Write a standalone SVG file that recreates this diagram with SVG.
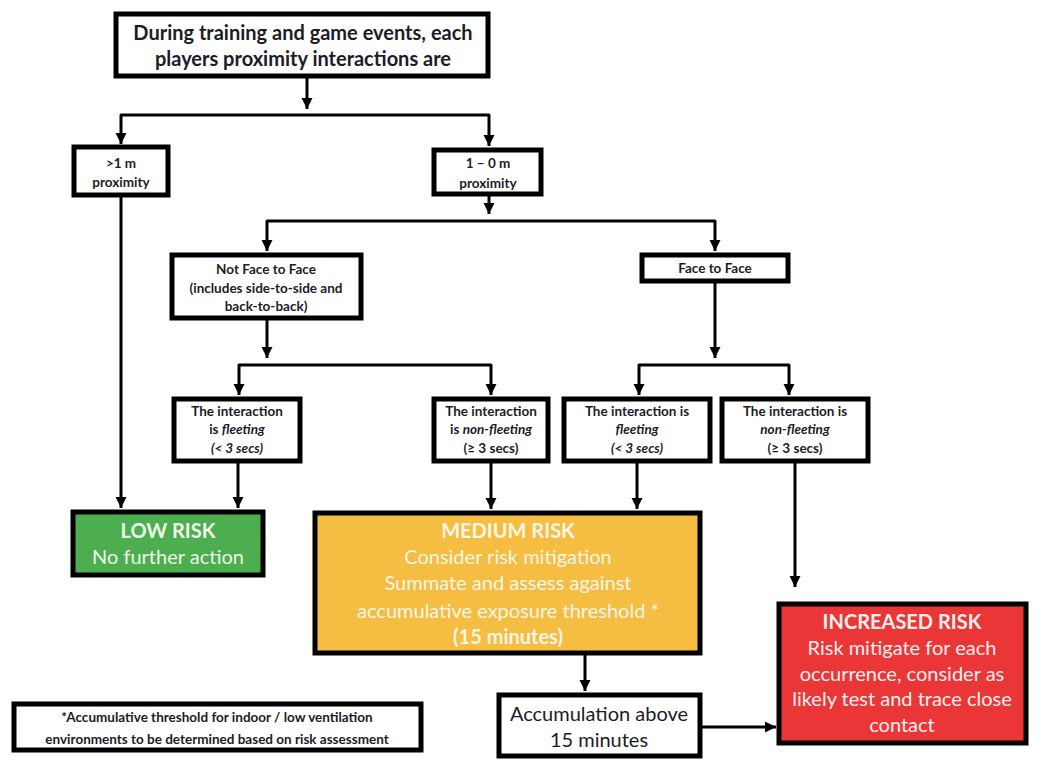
<svg xmlns="http://www.w3.org/2000/svg" width="1051" height="773" viewBox="0 0 1051 773">
<defs>
<marker id="ah" markerUnits="userSpaceOnUse" markerWidth="12" markerHeight="12" refX="11" refY="6" orient="auto">
<path d="M0,0.5 L11,6 L0,11.5 z" fill="#000"/>
</marker>
<style>
.box{fill:#fff;stroke:#000;stroke-width:5}
.t{font-family:Lato,"Open Sans","Liberation Sans",sans-serif;text-anchor:middle;fill:#1c1c28}
.big{font-size:20px}
.sm{font-size:13.5px;font-weight:bold}
.fn{font-size:13.5px;font-weight:bold}
.b{font-weight:bold}
.i{font-style:italic}
.w{fill:#fdf6e6}
.r{fill:#fff0f0}
.g{fill:#eef8ea}
.con path{fill:none;stroke:#000;stroke-width:3;stroke-linejoin:round}
</style>
</defs>
<rect width="1051" height="773" fill="#fff"/>
<g class="con">
<path d="M307,78 V109" marker-end="url(#ah)"/>
<path d="M307,115 H121 V144" marker-end="url(#ah)"/>
<path d="M307,115 H489 V146" marker-end="url(#ah)"/>
<path d="M121,197 V508" marker-end="url(#ah)"/>
<path d="M489,196 V214" marker-end="url(#ah)"/>
<path d="M489,221 H267 V251" marker-end="url(#ah)"/>
<path d="M489,221 H715 V251" marker-end="url(#ah)"/>
<path d="M267,320 V358" marker-end="url(#ah)"/>
<path d="M267,365 H239 V395" marker-end="url(#ah)"/>
<path d="M267,365 H491 V395" marker-end="url(#ah)"/>
<path d="M715,283 V358" marker-end="url(#ah)"/>
<path d="M715,365 H639 V395" marker-end="url(#ah)"/>
<path d="M715,365 H789 V395" marker-end="url(#ah)"/>
<path d="M238,463 V508" marker-end="url(#ah)"/>
<path d="M491,463 V509" marker-end="url(#ah)"/>
<path d="M637,463 V509" marker-end="url(#ah)"/>
<path d="M795,463 V587" marker-end="url(#ah)"/>
<path d="M585,655 V691" marker-end="url(#ah)"/>
<path d="M702,727 H776" marker-end="url(#ah)"/>
</g>
<g id="start">
<rect class="box" x="116" y="14" width="372" height="62"/>
<text class="t big b" x="303" y="40">During training and game events, each</text>
<text class="t big b" x="303" y="66">players proximity interactions are</text>
</g>
<g id="far">
<rect class="box" x="74" y="147" width="94" height="48"/>
<text class="t sm" x="121" y="168">&gt;1 m</text>
<text class="t sm" x="121" y="187">proximity</text>
</g>
<g id="near">
<rect class="box" x="434" y="150" width="107" height="44"/>
<text class="t sm" x="488" y="168">1 – 0 m</text>
<text class="t sm" x="488" y="188">proximity</text>
</g>
<g id="notface">
<rect class="box" x="172" y="255" width="189" height="63"/>
<text class="t sm" x="266" y="274">Not Face to Face</text>
<text class="t sm" x="266" y="293">(includes side-to-side and</text>
<text class="t sm" x="266" y="311">back-to-back)</text>
</g>
<g id="face">
<rect class="box" x="642" y="255" width="146" height="26"/>
<text class="t sm" x="715" y="273">Face to Face</text>
</g>
<g id="nf-fleeting">
<rect class="box" x="174" y="399" width="126" height="62"/>
<text class="t sm" x="237" y="416">The interaction</text>
<text class="t sm" x="237" y="434">is <tspan class="i">fleeting</tspan></text>
<text class="t sm i" x="237" y="453">(&lt; 3 secs)</text>
</g>
<g id="nf-nonfleeting">
<rect class="box" x="434" y="399" width="114" height="62"/>
<text class="t sm" x="491" y="416">The interaction</text>
<text class="t sm" x="491" y="434">is <tspan class="i">non-fleeting</tspan></text>
<text class="t sm" x="491" y="453">(≥ 3 secs)</text>
</g>
<g id="f-fleeting">
<rect class="box" x="564" y="399" width="146" height="62"/>
<text class="t sm" x="637" y="416">The interaction is</text>
<text class="t sm i" x="637" y="434">fleeting</text>
<text class="t sm i" x="637" y="453">(&lt; 3 secs)</text>
</g>
<g id="f-nonfleeting">
<rect class="box" x="722" y="399" width="146" height="62"/>
<text class="t sm" x="795" y="416">The interaction is</text>
<text class="t sm i" x="795" y="434">non-fleeting</text>
<text class="t sm" x="795" y="453">(≥ 3 secs)</text>
</g>
<g id="low">
<rect x="73" y="512" width="190" height="63" fill="#4dae4f" stroke="#000" stroke-width="5"/>
<text class="t big b g" x="168" y="538">LOW RISK</text>
<text class="t big g" x="168" y="564">No further action</text>
</g>
<g id="medium">
<rect x="315" y="513" width="385" height="140" fill="#f5bd42" stroke="#000" stroke-width="5"/>
<text class="t big b w" x="508" y="538">MEDIUM RISK</text>
<text class="t big w" x="508" y="564">Consider risk mitigation</text>
<text class="t big w" x="508" y="590">Summate and assess against</text>
<text class="t big w" x="508" y="618">accumulative exposure threshold *</text>
<text class="t big b w" x="508" y="644">(15 minutes)</text>
</g>
<g id="accum">
<rect class="box" x="499" y="695" width="201" height="61"/>
<text class="t big" x="599" y="721">Accumulation above</text>
<text class="t big" x="599" y="747">15 minutes</text>
</g>
<g id="increased">
<rect x="779" y="604" width="247" height="139" fill="#ea3636" stroke="#000" stroke-width="5"/>
<text class="t big b r" x="902" y="629">INCREASED RISK</text>
<text class="t big r" x="902" y="655">Risk mitigate for each</text>
<text class="t big r" x="902" y="681">occurrence, consider as</text>
<text class="t big r" x="902" y="706">likely test and trace close</text>
<text class="t big r" x="902" y="732">contact</text>
</g>
<g id="footnote">
<rect class="box" x="14" y="704" width="407" height="46"/>
<text class="t fn" x="217" y="722">*Accumulative threshold for indoor / low ventilation</text>
<text class="t fn" x="217" y="744">environments to be determined based on risk assessment</text>
</g>
</svg>
